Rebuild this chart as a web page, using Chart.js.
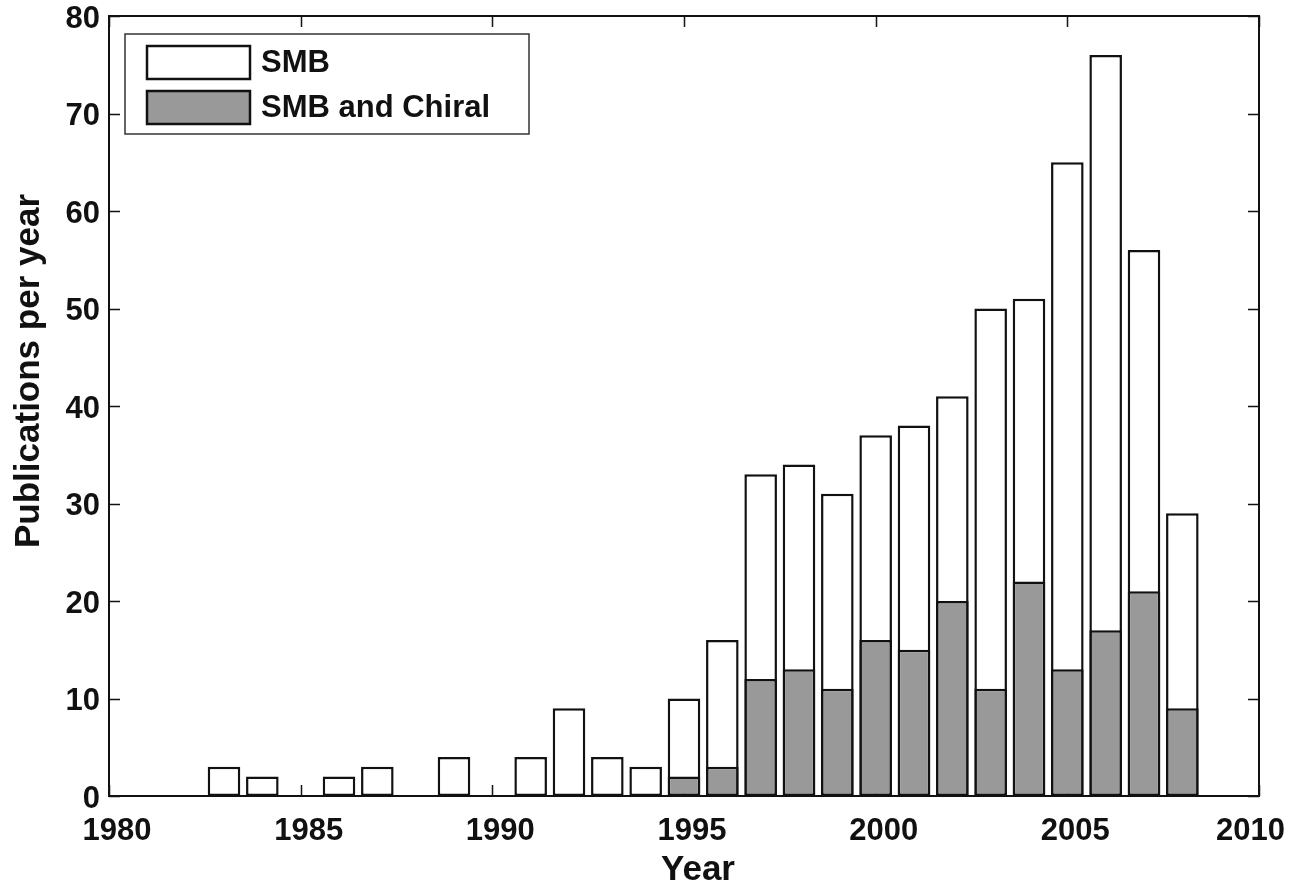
<!DOCTYPE html>
<html>
<head>
<meta charset="utf-8">
<script src="https://cdn.jsdelivr.net/npm/chart.js@4.4.1/dist/chart.umd.min.js"></script>
<style>
  html, body { margin: 0; padding: 0; background: #fff; }
  #wrap { width: 1291px; height: 883px; position: relative; }
</style>
</head>
<body>
<div id="wrap"><canvas id="pubChart"></canvas></div>
<script>
// values
const years = [1983, 1984, 1985, 1986, 1987, 1988, 1989, 1990, 1991, 1992, 1993, 1994, 1995,
               1996, 1997, 1998, 1999, 2000, 2001, 2002, 2003, 2004, 2005, 2006, 2007, 2008];
const smbCounts = [3, 2, 0, 2, 3, 0, 4, 0, 4, 9, 4, 3, 10,
                   16, 33, 34, 31, 37, 38, 41, 50, 51, 65, 76, 56, 29];
const chiralCounts = [0, 0, 0, 0, 0, 0, 0, 0, 0, 0, 0, 0, 2,
                      3, 12, 13, 11, 16, 15, 20, 11, 22, 13, 17, 21, 9];
const yearTicks = [1980, 1985, 1990, 1995, 2000, 2005, 2010];
const countTicks = [0, 10, 20, 30, 40, 50, 60, 70, 80];
const seriesNames = ['SMB', 'SMB and Chiral'];
const xTitle = 'Year';
const yTitle = 'Publications per year';

const FONT = '"Liberation Sans", Arial, Helvetica, sans-serif';
const ink = '#111';

// axis box with inward ticks on all four sides (ticks under the bars, box on top)
const frameAxes = {
  id: 'frameAxes',
  beforeDatasetsDraw(chart) {
    const { ctx, chartArea: a, scales: { x, y } } = chart;
    const len = 11;
    ctx.save();
    ctx.strokeStyle = ink;
    ctx.lineWidth = 1.5;
    ctx.beginPath();
    x.ticks.forEach(t => {
      const px = Math.round(x.getPixelForValue(t.value)) + 0.5;
      ctx.moveTo(px, a.bottom); ctx.lineTo(px, a.bottom - len);
      ctx.moveTo(px, a.top); ctx.lineTo(px, a.top + len);
    });
    y.ticks.forEach(t => {
      const py = Math.round(y.getPixelForValue(t.value)) + 0.5;
      ctx.moveTo(a.left, py); ctx.lineTo(a.left + len, py);
      ctx.moveTo(a.right, py); ctx.lineTo(a.right - len, py);
    });
    ctx.stroke();
    ctx.restore();
  },
  afterDatasetsDraw(chart) {
    const { ctx, chartArea: a } = chart;
    ctx.save();
    ctx.strokeStyle = ink;
    ctx.lineWidth = 2;
    ctx.strokeRect(a.left, a.top, a.right - a.left, a.bottom - a.top);
    ctx.restore();
  }
};

// year labels under the axis; the last one is pulled inside the canvas like in the original
const yearLabels = {
  id: 'yearLabels',
  afterDraw(chart, args, opts) {
    const { ctx, chartArea: a, scales: { x } } = chart;
    ctx.save();
    ctx.fillStyle = ink;
    ctx.font = 'bold 31px ' + FONT;
    ctx.textAlign = 'center';
    ctx.textBaseline = 'middle';
    x.ticks.forEach(t => {
      const txt = String(t.value);
      const half = ctx.measureText(txt).width / 2;
      let cx = x.getPixelForValue(t.value) + opts.shift;
      cx = Math.min(cx, chart.width - opts.edge - half);
      ctx.fillText(txt, cx, a.bottom + opts.gap);
    });
    ctx.restore();
  }
};

// axis titles, placed where the original figure has them
const axisTitles = {
  id: 'axisTitles',
  afterDraw(chart, args, opts) {
    const { ctx } = chart;
    ctx.save();
    ctx.fillStyle = ink;
    ctx.font = 'bold 35px ' + FONT;
    ctx.textAlign = 'center';
    ctx.textBaseline = 'alphabetic';
    ctx.fillText(xTitle, opts.xTitleX, opts.xTitleY);
    ctx.translate(opts.yTitleX, opts.yTitleY);
    ctx.rotate(-Math.PI / 2);
    ctx.textBaseline = 'middle';
    ctx.fillText(yTitle, 0, 0);
    ctx.restore();
  }
};

// boxed legend inside the plot, top-left
const boxLegend = {
  id: 'boxLegend',
  afterDraw(chart, args, opts) {
    const { ctx } = chart;
    ctx.save();
    ctx.fillStyle = '#fff';
    ctx.fillRect(opts.x, opts.y, opts.w, opts.h);
    ctx.strokeStyle = '#333';
    ctx.lineWidth = 1.5;
    ctx.strokeRect(opts.x, opts.y, opts.w, opts.h);
    ctx.font = 'bold 31px ' + FONT;
    ctx.textBaseline = 'middle';
    ctx.textAlign = 'left';
    chart.data.datasets.forEach((ds, i) => {
      const top = opts.y + opts.rowTops[i];
      ctx.fillStyle = ds.backgroundColor;
      ctx.fillRect(opts.swatchX, top, opts.swatchW, opts.swatchH);
      ctx.strokeStyle = ink;
      ctx.lineWidth = 2.5;
      ctx.strokeRect(opts.swatchX, top, opts.swatchW, opts.swatchH);
      ctx.fillStyle = ink;
      ctx.fillText(ds.label, opts.textX, top + opts.swatchH / 2 + 1);
    });
    ctx.restore();
  }
};

// keep Chart.js from adding its own edge padding for overflowing labels
function noEdgePadding(s) {
  s.paddingLeft = 0;
  s.paddingRight = 0;
  s.paddingTop = 0;
  s.paddingBottom = 0;
}

const ctx = document.getElementById('pubChart').getContext('2d');

new Chart(ctx, {
  type: 'bar',
  data: {
    datasets: [
      {
        label: seriesNames[0],
        data: years.map((yr, i) => ({ x: yr, y: smbCounts[i] })),
        backgroundColor: '#ffffff',
        borderColor: ink,
        borderWidth: 2.5,
        borderSkipped: false,
        grouped: false,
        order: 2,
        barPercentage: 0.85,
        categoryPercentage: 1
      },
      {
        label: seriesNames[1],
        data: years.map((yr, i) => ({ x: yr, y: chiralCounts[i] })),
        backgroundColor: '#999999',
        borderColor: ink,
        borderWidth: 2.5,
        borderSkipped: false,
        grouped: false,
        order: 1,
        barPercentage: 0.85,
        categoryPercentage: 1
      }
    ]
  },
  options: {
    responsive: true,
    maintainAspectRatio: false,
    animation: false,
    layout: { padding: { top: 16, right: 32, left: 0, bottom: 0 } },
    plugins: {
      legend: { display: false },
      tooltip: { enabled: false },
      boxLegend: {
        x: 125, y: 34, w: 404, h: 100,
        swatchX: 147, swatchW: 103, swatchH: 33,
        rowTops: [12, 57],
        textX: 261
      },
      yearLabels: { shift: 8, gap: 35, edge: 6 },
      axisTitles: {
        xTitleX: 698, xTitleY: 880,
        yTitleX: 29, yTitleY: 371
      }
    },
    scales: {
      x: {
        type: 'linear',
        min: 1980,
        max: 2010,
        offset: false,
        grid: { display: false, drawTicks: false },
        border: { display: false },
        afterBuildTicks: s => { s.ticks = yearTicks.map(v => ({ value: v })); },
        afterFit: s => { s.height = 87; noEdgePadding(s); },
        ticks: { display: false, autoSkip: false }
      },
      y: {
        min: 0,
        max: 80,
        grid: { display: false, drawTicks: false },
        border: { display: false },
        afterBuildTicks: s => { s.ticks = countTicks.map(v => ({ value: v })); },
        afterFit: s => { s.width = 109; noEdgePadding(s); },
        ticks: {
          padding: 9,
          labelOffset: 3,
          color: ink,
          font: { family: FONT, size: 31, weight: 'bold', lineHeight: 1 }
        }
      }
    }
  },
  plugins: [frameAxes, yearLabels, axisTitles, boxLegend]
});
</script>
</body>
</html>
